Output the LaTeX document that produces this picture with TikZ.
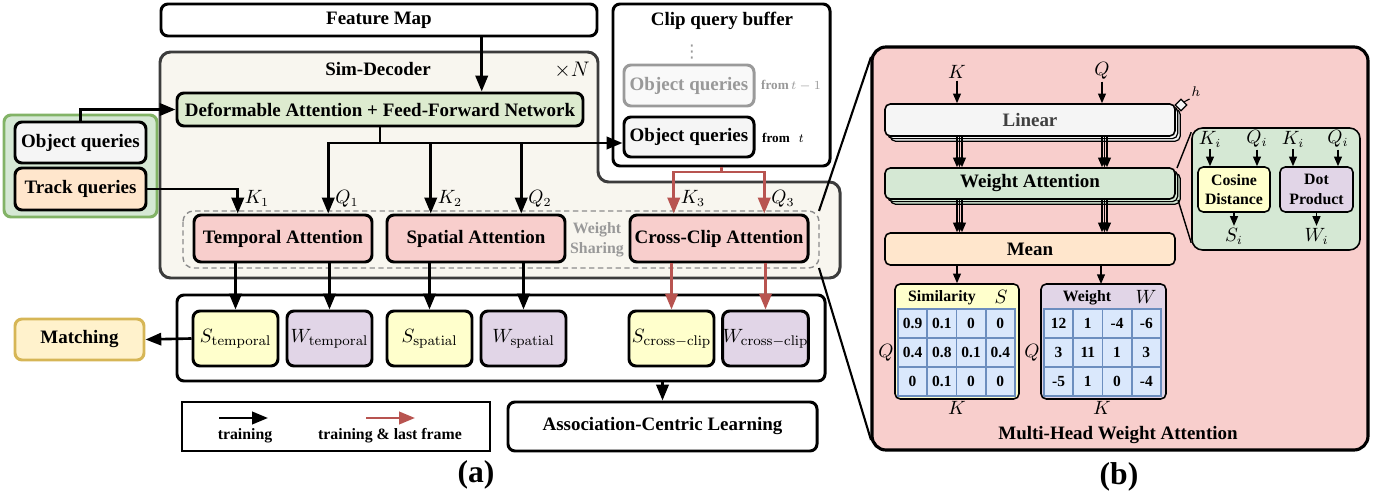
\documentclass[tikz,border=0pt]{standalone}
\usepackage[no-math]{fontspec}
\setmainfont{Liberation Serif}
\newfontfamily\symfont{DejaVu Sans}
\usetikzlibrary{arrows.meta,calc,shadows}

\definecolor{decofill}{HTML}{F8F6EF}
\definecolor{decoline}{HTML}{3C3C3C}
\definecolor{deformfill}{HTML}{DDEBCF}
\definecolor{grpfill}{HTML}{D5E8D4}
\definecolor{grpline}{HTML}{82B366}
\definecolor{objfill}{HTML}{F5F5F5}
\definecolor{trkfill}{HTML}{FFE6CC}
\definecolor{attfill}{HTML}{F8CECC}
\definecolor{sfill}{HTML}{FFFFCC}
\definecolor{wfill}{HTML}{E1D5E7}
\definecolor{matchfill}{HTML}{FFF2CC}
\definecolor{matchline}{HTML}{D6B656}
\definecolor{redline}{HTML}{B85450}
\definecolor{fadeline}{HTML}{9A9A9A}
\definecolor{fadetext}{HTML}{999999}
\definecolor{shareline}{HTML}{8C8C8C}
\definecolor{cellfill}{HTML}{DAE8FC}
\definecolor{cellline}{HTML}{6C8EBF}
\definecolor{lintext}{HTML}{404040}

\tikzset{
  box/.style 2 args={draw, line width=1.7pt, rounded corners=4pt, inner sep=0pt,
    minimum width=#1*0.02cm, minimum height=#2*0.02cm,
    font=\fontsize{10.8}{13}\selectfont\bfseries},
  rbox/.style 2 args={box={#1}{#2}, line width=0.9pt, rounded corners=3pt},
  stack/.style n args={3}{rbox={#1}{#2}, fill=#3,
    copy shadow={shadow xshift=3pt, shadow yshift=-3pt, fill=#3, draw=black, line width=0.7pt},
    copy shadow={shadow xshift=1.5pt, shadow yshift=-1.5pt, fill=#3, draw=black, line width=0.7pt}},
  arr/.style={line width=1.5pt, -{Triangle[length=9pt,width=7pt]}},
  redarr/.style={arr, draw=redline, color=redline},
  thinarr/.style={line width=0.8pt, -{Triangle[length=5.5pt,width=4.5pt]}},
  lab/.style={inner sep=1pt, font=\fontsize{10.5}{12}\selectfont},
  title/.style={inner sep=1pt, font=\fontsize{10.8}{13}\selectfont\bfseries},
  small/.style={inner sep=1pt, font=\fontsize{9}{11.4}\selectfont\bfseries},
  tiny/.style={inner sep=1pt, font=\fontsize{7.5}{9}\selectfont\bfseries},
  cell/.style={draw=cellline, fill=cellfill, line width=0.9pt, inner sep=0pt,
    minimum width=29.25*0.02cm, minimum height=29*0.02cm,
    font=\fontsize{8.8}{10}\selectfont\bfseries},
  decoder/.style={draw=decoline, fill=decofill, line width=1.7pt, rounded corners=6pt},
  share/.style={draw=shareline, line width=0.8pt, dash pattern=on 3pt off 2pt, rounded corners=6pt},
  zoomline/.style={line width=1.2pt},
}

\begin{document}
\begin{tikzpicture}[x=0.02cm,y=-0.02cm]
  \useasboundingbox (0,0) rectangle (1387,493);

  % (a) Sim-Decoder
  \draw[decoder] (160,52) -- (598,52) -- (598,182) -- (840,182) -- (840,278) -- (160,278) -- cycle;
  \draw[share] (183,211) rectangle (819,268);
  \node[title] (dectitle) at (378,69) {Sim-Decoder};
  \node[lab, font=\fontsize{12.5}{14}\selectfont] (rep) at (572,70) {$\times N$};

  \node[box={436}{32}, fill=white] (fmap) at (379,20) {Feature Map};
  \node[box={406}{33}, fill=deformfill] (deform) at (380,109.5) {Deformable Attention + Feed-Forward Network};

  \node[box={153}{102}, draw=grpline, fill=grpfill] (grp) at (80.5,166) {};
  \node[box={131}{41}, fill=objfill] (objq) at (80.5,142.5) {Object queries};
  \node[box={131}{42}, fill=trkfill] (trkq) at (80.5,189) {Track queries};

  \node[box={178}{47}, fill=attfill] (temp) at (283,238.5) {Temporal Attention};
  \node[box={178}{47}, fill=attfill] (spat) at (476,238.5) {Spatial Attention};
  \node[box={178}{47}, fill=attfill] (cross) at (719,238.5) {Cross-Clip Attention};
  \node[small, text=fadetext, align=center] (wshare) at (597,240) {Weight\\Sharing};

  % clip query buffer
  \node[box={217}{162}, fill=white] (buf) at (721.5,85) {};
  \node[title] (buftitle) at (722,21) {Clip query buffer};
  \node[inner sep=0pt, text=fadetext, font=\symfont\fontsize{10}{10}\selectfont] (dots) at (692,52) {⋮};
  \node[box={130}{41}, draw=fadeline, fill=objfill!60, text=fadetext] (objold) at (689,85.5) {Object queries};
  \node[tiny, text=fadetext] (fromold) at (791,86) {from$\,t-1$};
  \node[box={130}{40}, fill=objfill] (objnew) at (689,137) {Object queries};
  \node[tiny] (fromnew) at (783,138) {from\hspace{5pt}$t$};

  % key / query points
  \coordinate (k1pt) at ($(temp.north west)!0.25!(temp.north east)$);
  \coordinate (q1pt) at ($(temp.north west)!0.75!(temp.north east)$);
  \coordinate (k2pt) at ($(spat.north west)!0.25!(spat.north east)$);
  \coordinate (q2pt) at ($(spat.north west)!0.75!(spat.north east)$);
  \coordinate (k3pt) at ($(cross.north west)!0.25!(cross.north east)$);
  \coordinate (q3pt) at ($(cross.north west)!0.75!(cross.north east)$);
  \coordinate (fpt) at ($(fmap.south west)!0.734!(fmap.south east)$);
  \coordinate (bus) at (380,143);
  \coordinate (rbus) at (721.5,172);

  \draw[arr] (fpt) -- (fpt |- deform.north);
  \draw[arr] (objq.north) |- (deform.west);
  \draw[arr] (trkq.east) -| (k1pt);
  \draw[arr] (deform.south) -- (bus) -| (q1pt);
  \draw[arr] (bus) -| (k2pt);
  \draw[arr] (bus) -| (q2pt);
  \draw[arr] (bus) -- (bus -| objnew.west);
  \draw[redarr] (buf.south) -- (rbus) -| (k3pt);
  \draw[redarr] (rbus) -| (q3pt);

  \node[lab, anchor=west] (k1) at ($(k1pt)+(5,-15)$) {$K_1$};
  \node[lab, anchor=west] (q1) at ($(q1pt)+(5,-15)$) {$Q_1$};
  \node[lab, anchor=west] (k2) at ($(k2pt)+(5,-15)$) {$K_2$};
  \node[lab, anchor=west] (q2) at ($(q2pt)+(5,-15)$) {$Q_2$};
  \node[lab, anchor=west] (k3) at ($(k3pt)+(5,-15)$) {$K_3$};
  \node[lab, anchor=west] (q3) at ($(q3pt)+(5,-15)$) {$Q_3$};

  % outputs
  \node[box={648}{86}, fill=white] (outs) at (501,338) {};
  \begin{scope}[every node/.append style={font=\fontsize{11.5}{13}\selectfont}]
    \node[box={85}{55}, fill=sfill] (st) at (235.5,338.5) {$S_{\mathrm{temporal}}$};
    \node[box={85}{55}, fill=wfill] (wt) at (329.5,338.5) {$W_{\mathrm{temporal}}$};
    \node[box={85}{55}, fill=sfill] (ss) at (429.5,338.5) {$S_{\mathrm{spatial}}$};
    \node[box={85}{55}, fill=wfill] (ws) at (523.5,338.5) {$W_{\mathrm{spatial}}$};
    \node[box={85}{55}, fill=sfill] (sc) at (671.5,338.5) {$S_{\mathrm{cross-clip}}$};
    \node[box={85}{55}, fill=wfill] (wc) at (765.5,338.5) {$W_{\mathrm{cross-clip}}$};
  \end{scope}
  \draw[arr] (temp.south -| st.north) -- (st.north);
  \draw[arr] (temp.south -| wt.north) -- (wt.north);
  \draw[arr] (spat.south -| ss.north) -- (ss.north);
  \draw[arr] (spat.south -| ws.north) -- (ws.north);
  \draw[redarr] (cross.south -| sc.north) -- (sc.north);
  \draw[redarr] (cross.south -| wc.north) -- (wc.north);

  \node[box={129}{41}, draw=matchline, fill=matchfill] (match) at (79.5,339.5) {Matching};
  \draw[arr] (st.west) -- (match.east);

  \node[box={309}{49}, fill=white] (acl) at (662.5,426.5) {Association-Centric Learning};
  \draw[arr] (outs.south -| acl.north) -- (acl.north);

  % legend
  \node[box={308}{49}, fill=white, rounded corners=0pt] (legend) at (336,426.5) {};
  \coordinate (lga) at (219,418);
  \coordinate (lgb) at (268,418);
  \coordinate (lgc) at (366,418);
  \coordinate (lgd) at (415,418);
  \draw[arr] (lga) -- (lgb);
  \draw[redarr] (lgc) -- (lgd);
  \node[small] (lgtrain) at (245,436) {training};
  \node[small] (lglast) at (390,436) {training \& last frame};

  \node[inner sep=0pt, font=\fontsize{18}{20}\selectfont\bfseries] (capa) at (476,475) {(a)};

  % (b) Multi-Head Weight Attention
  \coordinate (shne) at (819,211);
  \coordinate (shse) at (819,268);
  \coordinate (pnw) at (871,57);
  \coordinate (psw) at (871,440);
  \node[box={496}{403}, fill=attfill, line width=1.8pt, rounded corners=8pt] (mhwa) at (1120,248.5) {};
  \draw[zoomline] (shne) -- (pnw);
  \draw[zoomline] (shse) -- (psw);

  \node[lab] (kin) at (957,72) {$K$};
  \node[lab] (qin) at (1102,71) {$Q$};
  \node[stack={290}{32}{objfill}, text=lintext] (lin) at (1030,120) {Linear};
  \node[stack={290}{31}{grpfill}] (watt) at (1030,183.5) {Weight Attention};
  \node[rbox={290}{32}, fill=trkfill] (mean) at (1030,249) {Mean};
  \draw[thinarr] (kin) -- (kin |- lin.north);
  \draw[thinarr] (qin) -- (qin |- lin.north);
  \foreach \d in {5,2.5,0} {
    \draw[thinarr] ($(kin |- lin.south)+(\d,0)$) -- ($(kin |- watt.north)+(\d,0)$);
    \draw[thinarr] ($(qin |- lin.south)+(\d,0)$) -- ($(qin |- watt.north)+(\d,0)$);
    \draw[thinarr] ($(kin |- watt.south)+(\d,0)$) -- ($(kin |- mean.north)+(\d,0)$);
    \draw[thinarr] ($(qin |- watt.south)+(\d,0)$) -- ($(qin |- mean.north)+(\d,0)$);
  }
  \node[draw, fill=objfill, line width=0.7pt, minimum size=8*0.02cm, inner sep=0pt, rotate=45] (hsq) at (1181,105) {};
  \node[lab, font=\fontsize{8}{9}\selectfont] (hlab) at (1196,92) {$h$};
  \draw[line width=0.6pt] (hsq.east) -- (hlab.south west);

  % zoomed weight attention
  \node[rbox={168}{122}, fill=grpfill, rounded corners=6pt] (zbox) at (1276,189) {};
  \coordinate (wane) at (1177,168);
  \coordinate (wase) at (1178,200);
  \draw[line width=0.8pt] (wane) -- ($(zbox.north west)+(0,5)$);
  \draw[line width=0.8pt] (wase) -- ($(zbox.south west)+(0,-8)$);
  \node[rbox={72}{45}, fill=sfill, align=center, font=\fontsize{9}{11.2}\selectfont\bfseries] (cosd) at (1234,189.5) {Cosine\\Distance};
  \node[rbox={73}{45}, fill=wfill, align=center, font=\fontsize{9}{11.2}\selectfont\bfseries] (dotp) at (1316.5,189.5) {Dot\\Product};
  \node[lab] (ki1) at (1210,139) {$K_i$};
  \node[lab] (qi1) at (1257,139) {$Q_i$};
  \node[lab] (ki2) at (1293,139) {$K_i$};
  \node[lab] (qi2) at (1338,139) {$Q_i$};
  \node[lab] (si) at (1234,236) {$S_i$};
  \node[lab] (wi) at (1316.5,236) {$W_i$};
  \draw[thinarr] (ki1) -- (ki1 |- cosd.north);
  \draw[thinarr] (qi1) -- (qi1 |- cosd.north);
  \draw[thinarr] (ki2) -- (ki2 |- dotp.north);
  \draw[thinarr] (qi2) -- (qi2 |- dotp.north);
  \draw[thinarr] (cosd.south) -- (si);
  \draw[thinarr] (dotp.south) -- (wi);

  % matrices
  \node[rbox={124}{115}, fill=sfill] (simbox) at (957,341.5) {};
  \node[rbox={125}{115}, fill=wfill] (wbox) at (1103.5,341.5) {};
  \coordinate (wtop) at (1101,284);
  \draw[thinarr] (mean.south -| simbox.north) -- (simbox.north);
  \draw[thinarr] (mean.south -| wtop) -- (wtop);
  \node[small] (simtitle) at (942,298) {Similarity};
  \node[lab, font=\fontsize{11}{12}\selectfont] (simsym) at (1001,297) {$S$};
  \node[small] (wtitle) at (1087,298) {Weight};
  \node[lab, font=\fontsize{11}{12}\selectfont] (wsym) at (1146,297) {$W$};
  \foreach \vals [count=\r from 0] in {{0.9,0.1,0,0},{0.4,0.8,0.1,0.4},{0,0.1,0,0}}
    \foreach \v [count=\c from 0] in \vals
      \node[cell] (sim-\r-\c) at (912.6+29.25*\c, 323.5+29*\r) {\v};
  \foreach \vals [count=\r from 0] in {{12,1,-4,-6},{3,11,1,3},{-5,1,0,-4}}
    \foreach \v [count=\c from 0] in \vals
      \node[cell] (wgt-\r-\c) at (1058.6+29.25*\c, 323.5+29*\r) {\v};
  \node[lab] (simq) at (886,353) {$Q$};
  \node[lab] (simk) at (957,408) {$K$};
  \node[lab] (wq) at (1032,353) {$Q$};
  \node[lab] (wk) at (1102,408) {$K$};
  \node[title] (mhwatitle) at (1118,435) {Multi-Head Weight Attention};

  \node[inner sep=0pt, font=\fontsize{18}{20}\selectfont\bfseries] (capb) at (1119,477) {(b)};
\end{tikzpicture}
\end{document}
